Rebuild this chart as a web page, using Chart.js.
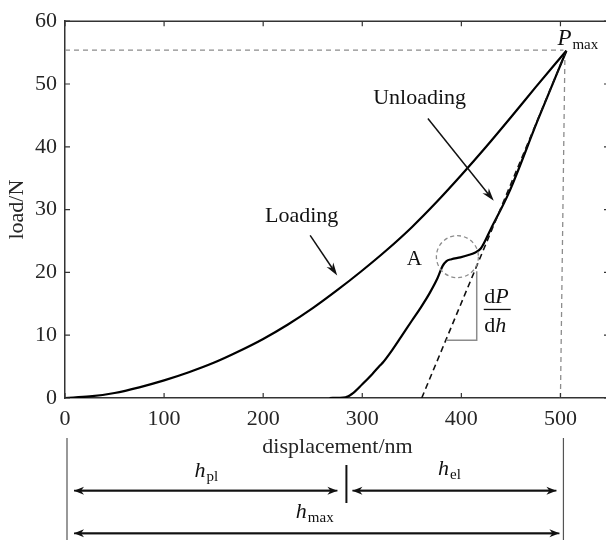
<!DOCTYPE html>
<html>
<head>
<meta charset="utf-8">
<script src="https://cdn.jsdelivr.net/npm/chart.js@4.4.1/dist/chart.umd.min.js"></script>
<style>
html, body { margin: 0; padding: 0; overflow: hidden; background: #fff; }
#kutu { width: 610px; height: 542px; }
</style>
</head>
<body>
<div id="kutu"><canvas id="grafik" width="610" height="542"></canvas></div>
<script>
// values
var loadingX = [0, 25, 50, 75, 100, 125, 150, 175, 200, 225, 250, 275, 300, 325, 350, 375, 400, 425, 450, 475, 506];
var loadingY = [0, 0.25, 0.8, 1.7, 2.8, 4.1, 5.6, 7.4, 9.4, 11.7, 14.3, 17.2, 20.3, 23.6, 27.2, 31.2, 35.5, 40.0, 44.7, 49.5, 55.3];

var unloadingX = [267, 283, 290, 300, 310, 318, 321, 330, 339, 350, 359, 368, 376, 381, 385, 390, 399, 408, 413, 419.6, 430, 448, 477, 506];
var unloadingY = [0, 0.1, 0.7, 2.2, 3.8, 5.2, 5.7, 7.6, 9.7, 12.3, 14.4, 16.7, 19.1, 21.0, 21.8, 22.1, 22.4, 22.8, 23.1, 23.8, 27.0, 32.7, 44.2, 55.3];

var tangentX = [360, 506];
var tangentY = [0, 55.3];

var pMax = 55.4;
var hMax = 503;
var hPl = 284;

var xTicks = [0, 100, 200, 300, 400, 500];
var yTicks = [0, 10, 20, 30, 40, 50, 60];

var serif = "'Liberation Serif', 'Times New Roman', serif";
var yaziRengi = "#262626";

function noktalar(xs, ys) {
    return xs.map(function (x, i) { return { x: x, y: ys[i] }; });
}

// arrow with a notched head
function okCiz(ctx, x1, y1, x2, y2, boy, yari) {
    var a = Math.atan2(y2 - y1, x2 - x1);
    var c = Math.cos(a), s = Math.sin(a);
    ctx.beginPath();
    ctx.moveTo(x1, y1);
    ctx.lineTo(x2 - c * boy * 0.7, y2 - s * boy * 0.7);
    ctx.stroke();
    ctx.beginPath();
    ctx.moveTo(x2, y2);
    ctx.lineTo(x2 - c * boy - s * yari, y2 - s * boy + c * yari);
    ctx.lineTo(x2 - c * boy * 0.7, y2 - s * boy * 0.7);
    ctx.lineTo(x2 - c * boy + s * yari, y2 - s * boy - c * yari);
    ctx.closePath();
    ctx.fill();
}

// italic letter followed by an upright subscript
function altIndis(ctx, harf, indis, x, taban, boyut, kucuk, ortala) {
    ctx.font = "italic " + boyut + "px " + serif;
    var w1 = ctx.measureText(harf).width;
    ctx.font = kucuk + "px " + serif;
    var w2 = ctx.measureText(indis).width;
    var bas = ortala ? x - (w1 + w2) / 2 : x;
    ctx.textAlign = "left";
    ctx.textBaseline = "alphabetic";
    ctx.font = "italic " + boyut + "px " + serif;
    ctx.fillText(harf, bas, taban);
    ctx.font = kucuk + "px " + serif;
    ctx.fillText(indis, bas + w1 + 1, taban + 4);
}

var cerceve = {
    id: "cerceve",
    afterDraw: function (chart) {
        var ctx = chart.ctx, a = chart.chartArea;
        var sx = chart.scales.x, sy = chart.scales.y;
        ctx.save();
        ctx.strokeStyle = "#333";
        ctx.lineWidth = 1.5;
        ctx.beginPath();
        ctx.moveTo(a.left, a.top);
        ctx.lineTo(a.right, a.top);
        ctx.lineTo(a.right, a.bottom);
        ctx.stroke();
        ctx.lineWidth = 1.2;
        ctx.beginPath();
        xTicks.forEach(function (v) {
            var px = sx.getPixelForValue(v);
            ctx.moveTo(px, a.bottom); ctx.lineTo(px, a.bottom - 5);
            ctx.moveTo(px, a.top); ctx.lineTo(px, a.top + 5);
        });
        yTicks.forEach(function (v) {
            var py = sy.getPixelForValue(v);
            ctx.moveTo(a.left, py); ctx.lineTo(a.left + 5, py);
            ctx.moveTo(a.right, py); ctx.lineTo(a.right - 6, py);
        });
        ctx.stroke();
        ctx.restore();
    }
};

var notlar = {
    id: "notlar",
    afterDatasetsDraw: function (chart) {
        var ctx = chart.ctx;
        var sx = chart.scales.x, sy = chart.scales.y;
        function X(v) { return sx.getPixelForValue(v); }
        function Y(v) { return sy.getPixelForValue(v); }
        ctx.save();

        // circle around point A
        ctx.strokeStyle = "#8c8c8c";
        ctx.lineWidth = 1.3;
        ctx.setLineDash([4, 3]);
        ctx.beginPath();
        ctx.arc(X(396), Y(22.5), 21, 0, Math.PI * 2);
        ctx.stroke();
        ctx.setLineDash([]);

        // slope triangle
        ctx.strokeStyle = "#8c8c8c";
        ctx.lineWidth = 1.5;
        ctx.beginPath();
        ctx.moveTo(X(384.5), Y(9.2));
        ctx.lineTo(X(415.5), Y(9.2));
        ctx.lineTo(X(415.5), Y(20.2));
        ctx.stroke();

        ctx.fillStyle = "#111";
        ctx.strokeStyle = "#111";
        ctx.lineWidth = 1.5;
        okCiz(ctx, X(247.4), Y(25.9), X(274.7), Y(19.5), 13, 4);
        okCiz(ctx, X(366.2), Y(44.5), X(432.7), Y(31.4), 13, 4);

        ctx.textAlign = "left";
        ctx.textBaseline = "alphabetic";
        ctx.font = "22px " + serif;
        ctx.fillText("Loading", X(201.8), Y(28.1));
        ctx.fillText("Unloading", X(311), Y(46.8));
        ctx.font = "21px " + serif;
        ctx.fillText("A", X(345), Y(21.2));

        // dP/dh
        var fx = X(423);
        ctx.font = "22px " + serif;
        ctx.fillText("d", fx, Y(15.2));
        var wd = ctx.measureText("d").width;
        ctx.font = "italic 22px " + serif;
        ctx.fillText("P", fx + wd, Y(15.2));
        ctx.font = "22px " + serif;
        ctx.fillText("d", fx, Y(10.5));
        ctx.font = "italic 22px " + serif;
        ctx.fillText("h", fx + wd, Y(10.5));
        ctx.lineWidth = 1.3;
        ctx.beginPath();
        ctx.moveTo(X(422.6), Y(14.1));
        ctx.lineTo(X(449.8), Y(14.1));
        ctx.stroke();

        // P_max
        altIndis(ctx, "P", "max", X(496.9), Y(56.2), 23, 15, false);

        // depth annotations under the axis
        var x0 = X(0) + 2, xm = X(hMax), xp = X(hPl);
        ctx.strokeStyle = "#555";
        ctx.lineWidth = 1.2;
        ctx.beginPath();
        ctx.moveTo(x0, 438); ctx.lineTo(x0, 540);
        ctx.moveTo(xm, 438); ctx.lineTo(xm, 540);
        ctx.stroke();
        ctx.strokeStyle = "#111";
        ctx.lineWidth = 2;
        ctx.beginPath();
        ctx.moveTo(xp, 465); ctx.lineTo(xp, 503);
        ctx.stroke();

        ctx.lineWidth = 1.8;
        okCiz(ctx, xp - 9, 490.7, x0 + 7, 490.7, 10, 4);
        okCiz(ctx, x0 + 7, 490.7, xp - 9, 490.7, 10, 4);
        okCiz(ctx, xm - 7, 490.7, xp + 6, 490.7, 10, 4);
        okCiz(ctx, xp + 6, 490.7, xm - 7, 490.7, 10, 4);
        okCiz(ctx, xm - 4, 533.3, x0 + 7, 533.3, 10, 4);
        okCiz(ctx, x0 + 7, 533.3, xm - 4, 533.3, 10, 4);

        altIndis(ctx, "h", "pl", (X(0) + xp) / 2, 476.7, 22, 15, true);
        altIndis(ctx, "h", "el", (xp + xm) / 2 - 6, 475, 22, 15, true);
        altIndis(ctx, "h", "max", (X(0) + xm) / 2, 518, 22, 15, true);

        ctx.restore();
    }
};

var ctx = document.getElementById("grafik").getContext("2d");
var grafik = new Chart(ctx, {
    type: "scatter",
    data: {
        datasets: [
            {
                label: "Pmax yatay",
                data: [{ x: 0, y: pMax }, { x: hMax, y: pMax }],
                showLine: true, borderColor: "#8c8c8c", borderWidth: 1.3,
                borderDash: [5, 4], pointRadius: 0
            },
            {
                label: "Pmax dikey",
                data: [{ x: 500, y: 0 }, { x: 504.5, y: 54.5 }],
                showLine: true, borderColor: "#8c8c8c", borderWidth: 1.3,
                borderDash: [5, 4], pointRadius: 0
            },
            {
                label: "Tangent",
                data: noktalar(tangentX, tangentY),
                showLine: true, borderColor: "#111", borderWidth: 1.6,
                borderDash: [6, 4], pointRadius: 0
            },
            {
                label: "Loading",
                data: noktalar(loadingX, loadingY),
                showLine: true, borderColor: "#000", borderWidth: 2.2,
                pointRadius: 0, cubicInterpolationMode: "monotone"
            },
            {
                label: "Unloading",
                data: noktalar(unloadingX, unloadingY),
                showLine: true, borderColor: "#000", borderWidth: 2.2,
                pointRadius: 0, cubicInterpolationMode: "monotone"
            }
        ]
    },
    options: {
        responsive: false,
        animation: false,
        layout: { padding: { top: 16, right: 0, left: 0, bottom: 0 } },
        plugins: {
            legend: { display: false },
            tooltip: { enabled: false }
        },
        scales: {
            x: {
                type: "linear",
                min: 0,
                max: 550,
                afterBuildTicks: function (s) { s.ticks = xTicks.map(function (v) { return { value: v }; }); },
                afterFit: function (s) { s.height = 144; },
                grid: { display: false, drawTicks: false },
                border: { color: "#333", width: 1.5 },
                ticks: { font: { family: serif, size: 22 }, color: yaziRengi, padding: 8, maxRotation: 0, autoSkip: false },
                title: {
                    display: true, text: "displacement/nm",
                    font: { family: serif, size: 22 }, color: yaziRengi,
                    padding: { top: 0, bottom: 82 }
                }
            },
            y: {
                min: 0,
                max: 60,
                afterBuildTicks: function (s) { s.ticks = yTicks.map(function (v) { return { value: v }; }); },
                afterFit: function (s) { s.width = 65; },
                grid: { display: false, drawTicks: false },
                border: { color: "#333", width: 1.5 },
                ticks: { font: { family: serif, size: 22 }, color: yaziRengi, padding: 8 },
                title: {
                    display: true, text: "load/N",
                    font: { family: serif, size: 22 }, color: yaziRengi,
                    padding: { top: 4, bottom: 0 }
                }
            }
        }
    },
    plugins: [cerceve, notlar]
});
</script>
</body>
</html>
